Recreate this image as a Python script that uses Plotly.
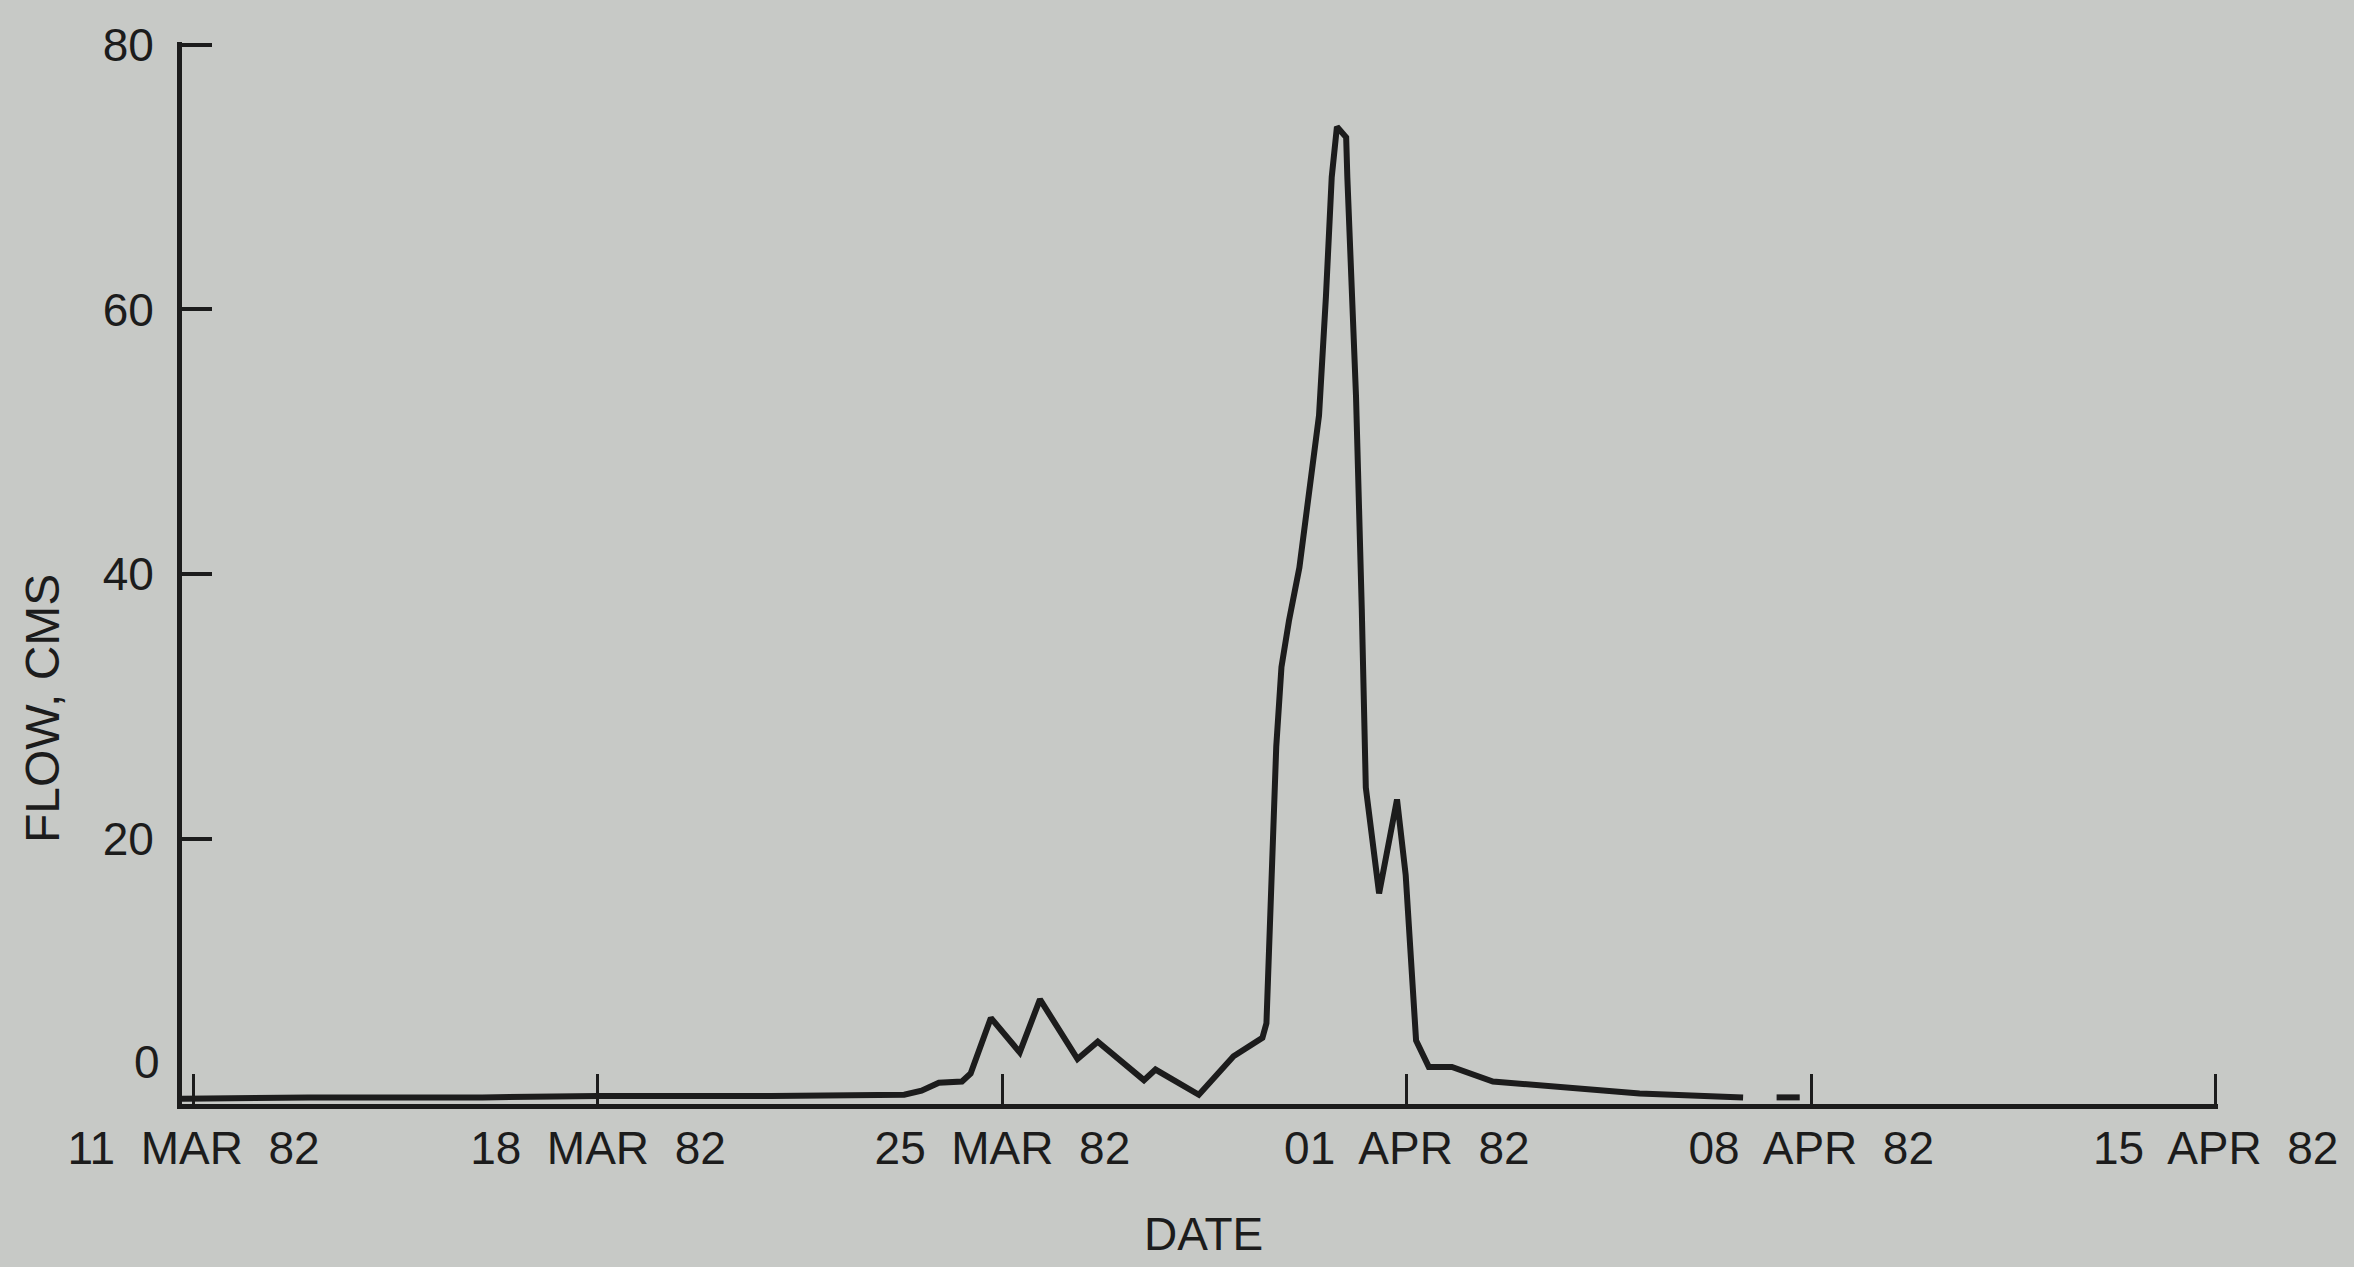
import pandas as pd
import plotly.graph_objects as go

# Days after 11 MAR 82 (00:00) and flow in cms
day_offset = [-0.3, 2, 5, 7, 10, 12.3, 12.6, 12.9, 13.3, 13.45, 13.8, 14.3, 14.65, 15.3, 15.65,
              16.45, 16.65, 17.4, 18.0, 18.35, 18.5, 18.57, 18.65, 18.74, 18.83, 18.96, 19.14,
              19.31, 19.48, 19.6, 19.7, 19.79, 19.95, 19.97, 20.03, 20.12, 20.22, 20.29, 20.52,
              20.83, 20.98, 21.16, 21.38, 21.78, 22.49, 23.77, 25.03, 26.82, None, 27.4, 27.8]
flow_cms = [0.4, 0.5, 0.5, 0.6, 0.6, 0.7, 1.0, 1.6, 1.7, 2.3, 6.5, 3.9, 7.9, 3.4, 4.7,
            1.8, 2.6, 0.7, 3.6, 4.5, 5.0, 6.1, 16.9, 27, 33, 36.5, 40.5,
            46.3, 52, 61, 70, 73.8, 73.0, 70, 63.5, 53.5, 37.4, 23.9, 15.9,
            23.0, 17.3, 4.8, 2.8, 2.8, 1.7, 1.2, 0.8, 0.5, None, 0.5, 0.5]

start_date = "1982-03-11"
tick_days = [0, 7, 14, 21, 28, 35]
tick_labels = ["11\u00a0 MAR\u00a0 82", "18\u00a0 MAR\u00a0 82", "25\u00a0 MAR\u00a0 82",
               "01\u00a0 APR\u00a0 82", "08\u00a0 APR\u00a0 82", "15\u00a0 APR\u00a0 82"]
y_ticks = [20, 40, 60, 80]

t0 = pd.Timestamp(start_date)
x_dates = [None if d is None else t0 + pd.to_timedelta(d, unit="D") for d in day_offset]
x_ticks = [t0 + pd.to_timedelta(d, unit="D") for d in tick_days]

BG = "#c7c9c6"
INK = "#1c1c1c"
FONT = "Liberation Sans, Arial, sans-serif"

fig = go.Figure()
fig.add_trace(go.Scatter(
    x=x_dates, y=flow_cms, mode="lines",
    line=dict(color=INK, width=6), connectgaps=False, showlegend=False,
    hoverinfo="skip",
))

fig.update_layout(
    width=2354, height=1267,
    paper_bgcolor=BG, plot_bgcolor=BG,
    margin=dict(l=182, r=136, t=42, b=163),
    font=dict(family=FONT, size=46, color=INK),
    showlegend=False,
)
fig.update_xaxes(
    type="date",
    range=[t0 + pd.to_timedelta(-0.2, unit="D"), t0 + pd.to_timedelta(35.04, unit="D")],
    tickmode="array", tickvals=x_ticks, ticktext=tick_labels,
    ticks="inside", ticklen=30, tickwidth=3, tickcolor=INK,
    showline=True, linecolor=INK, linewidth=5,
    showgrid=False, zeroline=False,
    tickfont=dict(size=46, color=INK),
)
fig.update_yaxes(
    range=[0, 80.2],
    tickmode="array", tickvals=y_ticks, ticktext=[str(v) for v in y_ticks],
    ticks="inside", ticklen=30, tickwidth=3.5, tickcolor=INK,
    showline=True, linecolor=INK, linewidth=5,
    showgrid=False, zeroline=False,
    tickfont=dict(size=46, color=INK),
    ticklabelstandoff=14,
)
fig.add_annotation(
    x=0, xref="paper", y=3.2, yref="y", text="0", showarrow=False,
    xanchor="right", yanchor="middle", xshift=-20,
    font=dict(size=46, color=INK, family=FONT),
)
fig.add_annotation(
    x=42, xref="paper", y=709, yref="paper", text="FLOW, CMS", showarrow=False,
    textangle=-90, xanchor="center", yanchor="middle",
    font=dict(size=48, color=INK, family=FONT),
)
fig.add_annotation(
    x=1203, xref="paper", y=1234, yref="paper", text="DATE", showarrow=False,
    xanchor="center", yanchor="middle",
    font=dict(size=46, color=INK, family=FONT),
)
# convert pixel positions of titles to paper coordinates
plot_w = 2354 - 182 - 136
plot_h = 1267 - 42 - 163
for ann in fig.layout.annotations[1:]:
    px, py = ann.x, ann.y
    ann.x = (px - 182) / plot_w
    ann.y = 1 - (py - 42) / plot_h

fig.write_html("out.html")
